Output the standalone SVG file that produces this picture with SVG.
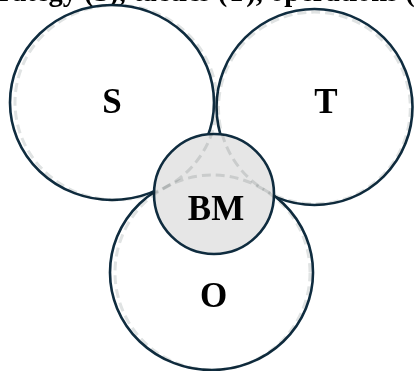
<svg xmlns="http://www.w3.org/2000/svg" width="414" height="371" viewBox="0 0 414 371">
  <style>
    .ring { fill: #ffffff; stroke: #0f2c3f; stroke-width: 2.6; }
    .bm { fill: #e6e6e6; stroke: #0f2c3f; stroke-width: 2.6; }
    .shadow { fill: none; stroke: #e0e3e3; stroke-width: 3; stroke-dasharray: 9 5; mix-blend-mode: multiply; }
    .lbl { font-family: "Liberation Serif", "Times New Roman", serif; font-weight: bold; font-size: 35px; fill: #000000; text-anchor: middle; }
    .title { font-family: "Liberation Serif", "Times New Roman", serif; font-weight: bold; font-size: 28.5px; fill: #000000; }
  </style>
  <rect width="414" height="371" fill="#ffffff"/>
  <text class="title" x="-26" y="0.5">Strategy (S), tactics (T), operations (O)</text>
  <g id="node-S">
    <ellipse class="ring" cx="112" cy="102.5" rx="102" ry="97.5"/>
    <text class="lbl" x="112" y="113">S</text>
  </g>
  <g id="node-T">
    <ellipse class="ring" cx="314.5" cy="107" rx="98" ry="98"/>
    <text class="lbl" x="326" y="113">T</text>
  </g>
  <g id="node-O">
    <ellipse class="ring" cx="211.5" cy="272.5" rx="101.5" ry="97.5"/>
    <text class="lbl" x="213.5" y="307">O</text>
  </g>
  <g id="node-BM">
    <circle class="bm" cx="214" cy="194" r="60"/>
  </g>
  <g id="connectors">
    <ellipse class="shadow" cx="116" cy="102.5" rx="101" ry="97.5"/>
    <circle class="shadow" cx="314.4" cy="108" r="95.9"/>
    <circle class="shadow" cx="212.5" cy="272.5" r="97.5"/>
  </g>
  <g id="node-BM-label">
    <text class="lbl" x="216" y="220">BM</text>
  </g>
</svg>
